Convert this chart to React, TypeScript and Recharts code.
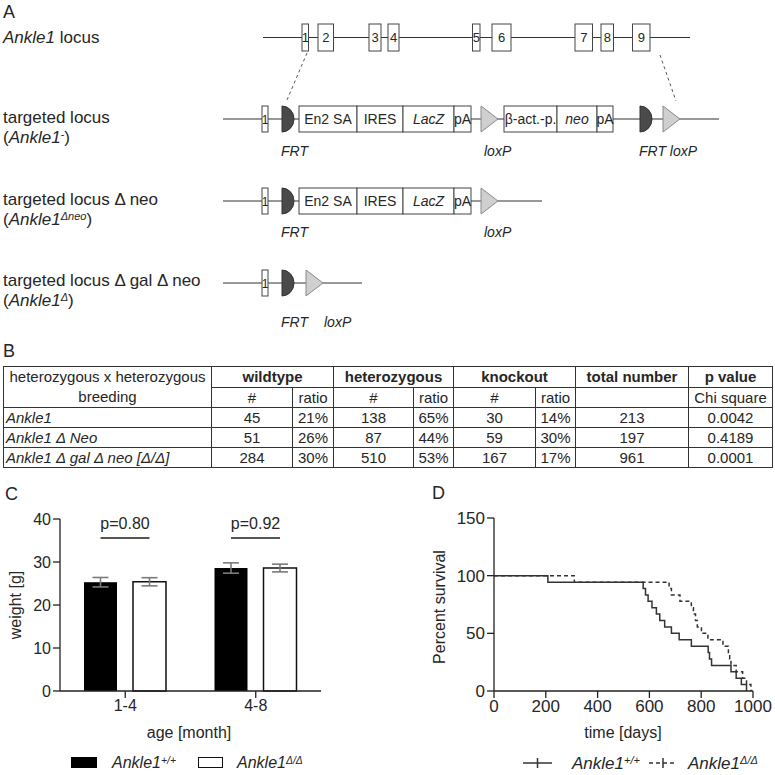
import React from "react";
import { BarChart, Bar, XAxis, YAxis, ErrorBar, LineChart, Line } from "recharts";

const FONT = '"Liberation Sans", Arial, Helvetica, sans-serif';
const INK = "#262626";

// ---- panel B: breeding table ----
const breedingLines = ["Ankle1", "Ankle1 Δ Neo", "Ankle1 Δ gal Δ neo [Δ/Δ]"];
const wildtypeCounts = [45, 51, 284];
const wildtypeRatios = ["21%", "26%", "30%"];
const hetCounts = [138, 87, 510];
const hetRatios = ["65%", "44%", "53%"];
const koCounts = [30, 59, 167];
const koRatios = ["14%", "30%", "17%"];
const totals = [213, 197, 961];
const chiSquareP = ["0.0042", "0.4189", "0.0001"];

// ---- panel C: body weight ----
const ageGroups = ["1-4", "4-8"];
const wtWeight = [25.3, 28.6];
const wtSem = [1.1, 1.2];
const koWeight = [25.4, 28.6];
const koSem = [0.95, 0.9];
const weightP = ["p=0.80", "p=0.92"];
const weightTicks = [0, 10, 20, 30, 40];

// ---- panel D: survival ----
const wtDays = [0, 208, 576, 585, 595, 610, 627, 640, 659, 685, 715, 762, 827, 832, 840, 915, 935, 955, 975];
const wtSurvival = [100, 94.4, 88.9, 83.3, 77.8, 72.2, 66.7, 61.1, 55.6, 50, 44.4, 38.9, 33.3, 27.8, 22.2, 16.7, 11.1, 5.6, 0];
const koDays = [0, 310, 676, 685, 718, 762, 770, 778, 785, 801, 826, 884, 905, 910, 915, 935, 960, 975, 992];
const koSurvival = [100, 94.4, 88.9, 83.3, 77.8, 72.2, 66.7, 61.1, 55.6, 50, 44.4, 38.9, 33.3, 27.8, 22.2, 16.7, 11.1, 5.6, 0];
const dayTicks = [0, 200, 400, 600, 800, 1000];
const survivalTicks = [0, 50, 100, 150];

// ---- panel A: locus schematic ----
const locusExons = ["1", "2", "3", "4", "5", "6", "7", "8", "9"];
const EXON_SPANS = [
  [302, 308.5], [318, 333.5], [369, 381], [388, 399], [472.5, 480],
  [492, 511], [575, 592.5], [601, 613.5], [632.5, 650],
];
const cassetteA = [
  { label: "En2 SA", x0: 299, x1: 357 },
  { label: "IRES", x0: 357, x1: 403 },
  { label: "LacZ", x0: 403, x1: 454, italic: true },
  { label: "pA", x0: 454, x1: 471 },
];
const cassetteB = [
  { label: "β-act.-p.", x0: 504, x1: 557 },
  { label: "neo", x0: 557, x1: 597, italic: true },
  { label: "pA", x0: 597, x1: 613 },
];

const Sup = ({ children }: { children: React.ReactNode }) => (
  <sup style={{ fontSize: "0.65em", lineHeight: 0, verticalAlign: "0.4em" }}>{children}</sup>
);

function TextAt({ x, y, size = 16, center = false, rotate = false, children }: any) {
  let transform = center ? "translate(-50%,-50%)" : "translateY(-50%)";
  if (rotate) transform += " rotate(-90deg)";
  return (
    <div
      style={{
        position: "absolute",
        left: x,
        top: y,
        transform,
        fontSize: size,
        lineHeight: `${size}px`,
        whiteSpace: "nowrap",
      }}
    >
      {children}
    </div>
  );
}

const Frt = ({ x, cy }: { x: number; cy: number }) => (
  <path d={`M${x},${cy - 13} A12,13 0 0 1 ${x},${cy + 13} Z`} fill="#4a4a4a" stroke="#333" strokeWidth={1} />
);
const LoxP = ({ x, cy }: { x: number; cy: number }) => (
  <polygon points={`${x},${cy - 13} ${x + 17},${cy} ${x},${cy + 13}`} fill="#cfcfcf" stroke="#8a8a8a" strokeWidth={1} />
);
const Box = ({ x0, x1, cy, label, italic, size = 14 }: any) => (
  <g>
    <rect x={x0} y={cy - 13} width={x1 - x0} height={26} fill="#fff" stroke="#444" strokeWidth={1} />
    <text x={(x0 + x1) / 2} y={cy + 5} textAnchor="middle" fontSize={size} fontStyle={italic ? "italic" : "normal"} fill={INK}>
      {label}
    </text>
  </g>
);

function TargetedRow({ cy, end, full, short }: { cy: number; end: number; full?: boolean; short?: boolean }) {
  return (
    <g>
      <line x1={223} x2={end} y1={cy} y2={cy} stroke="#333" strokeWidth={1.2} />
      <Box x0={262} x1={268} cy={cy} label="1" size={12} />
      <Frt x={282} cy={cy} />
      {short ? (
        <LoxP x={306} cy={cy} />
      ) : (
        <>
          {cassetteA.map((b) => (
            <Box key={b.label + b.x0} {...b} cy={cy} />
          ))}
          <LoxP x={481} cy={cy} />
        </>
      )}
      {full && (
        <>
          {cassetteB.map((b) => (
            <Box key={b.label + b.x0} {...b} cy={cy} />
          ))}
          <Frt x={640} cy={cy} />
          <LoxP x={663} cy={cy} />
        </>
      )}
    </g>
  );
}

function PanelA() {
  const it = (s: string) => <i>{s}</i>;
  const L = 17;
  return (
    <>
      <TextAt x={3} y={12} size={18}>A</TextAt>
      <svg width={775} height={340} style={{ position: "absolute", left: 0, top: 0 }} fontFamily={FONT}>
        <line x1={263} x2={690} y1={37.5} y2={37.5} stroke="#333" strokeWidth={1.2} />
        {locusExons.map((label, i) => (
          <g key={label}>
            <rect x={EXON_SPANS[i][0]} y={24} width={EXON_SPANS[i][1] - EXON_SPANS[i][0]} height={27} fill="#fff" stroke="#444" />
            <text x={(EXON_SPANS[i][0] + EXON_SPANS[i][1]) / 2} y={42} textAnchor="middle" fontSize={13} fill={INK}>
              {label}
            </text>
          </g>
        ))}
        <line x1={307} y1={53} x2={287} y2={100} stroke="#555" strokeDasharray="3 3" />
        <line x1={660} y1={55} x2={676} y2={101} stroke="#555" strokeDasharray="3 3" />
        <TargetedRow cy={119} end={719} full />
        <TargetedRow cy={201} end={542} />
        <TargetedRow cy={283} end={362} short />
      </svg>
      <TextAt x={3} y={37} size={L}>{it("Ankle1")} locus</TextAt>
      <TextAt x={3} y={117} size={L}>targeted locus</TextAt>
      <TextAt x={3} y={137} size={L}>({it("Ankle1")}<Sup>-</Sup>)</TextAt>
      <TextAt x={3} y={199} size={L}>targeted locus Δ neo</TextAt>
      <TextAt x={3} y={219} size={L}>({it("Ankle1")}<Sup><i>Δneo</i></Sup>)</TextAt>
      <TextAt x={3} y={280} size={L}>targeted locus Δ gal Δ neo</TextAt>
      <TextAt x={3} y={300} size={L}>({it("Ankle1")}<Sup><i>Δ</i></Sup>)</TextAt>
      <TextAt x={281} y={151} size={14}>{it("FRT")}</TextAt>
      <TextAt x={484} y={151} size={14}>{it("loxP")}</TextAt>
      <TextAt x={639} y={151} size={14}>{it("FRT loxP")}</TextAt>
      <TextAt x={281} y={232} size={14}>{it("FRT")}</TextAt>
      <TextAt x={484} y={232} size={14}>{it("loxP")}</TextAt>
      <TextAt x={281} y={322} size={14}>{it("FRT")}</TextAt>
      <TextAt x={324} y={322} size={14}>{it("loxP")}</TextAt>
    </>
  );
}

function PanelB() {
  const colW = [208, 81, 41, 80, 40, 82, 40, 113, 84];
  const td: React.CSSProperties = {
    border: "1px solid #333",
    padding: 0,
    height: 19,
    lineHeight: "19px",
    textAlign: "center",
    overflow: "hidden",
    whiteSpace: "nowrap",
  };
  const th: React.CSSProperties = { ...td, fontWeight: "bold" };
  return (
    <>
      <TextAt x={3} y={351} size={18}>B</TextAt>
      <table
        style={{
          position: "absolute",
          left: 3,
          top: 366,
          width: 769,
          borderCollapse: "collapse",
          tableLayout: "fixed",
          fontSize: 15,
          color: INK,
        }}
      >
        <colgroup>
          {colW.map((w, i) => (
            <col key={i} style={{ width: w }} />
          ))}
        </colgroup>
        <tbody>
          <tr>
            <td rowSpan={2} style={{ ...td, lineHeight: "20px" }}>
              heterozygous x heterozygous
              <br />
              breeding
            </td>
            <td colSpan={2} style={th}>wildtype</td>
            <td colSpan={2} style={th}>heterozygous</td>
            <td colSpan={2} style={th}>knockout</td>
            <td style={th}>total number</td>
            <td style={th}>p value</td>
          </tr>
          <tr>
            <td style={td}>#</td>
            <td style={td}>ratio</td>
            <td style={td}>#</td>
            <td style={td}>ratio</td>
            <td style={td}>#</td>
            <td style={td}>ratio</td>
            <td style={td}></td>
            <td style={td}>Chi square</td>
          </tr>
          {breedingLines.map((name, i) => (
            <tr key={name}>
              <td style={{ ...td, textAlign: "left", fontStyle: "italic", paddingLeft: 2 }}>{name}</td>
              <td style={td}>{wildtypeCounts[i]}</td>
              <td style={td}>{wildtypeRatios[i]}</td>
              <td style={td}>{hetCounts[i]}</td>
              <td style={td}>{hetRatios[i]}</td>
              <td style={td}>{koCounts[i]}</td>
              <td style={td}>{koRatios[i]}</td>
              <td style={td}>{totals[i]}</td>
              <td style={td}>{chiSquareP[i]}</td>
            </tr>
          ))}
        </tbody>
      </table>
    </>
  );
}

const P_LEVEL = 35.6;
const BAR_GAP = 16;

function WtBarShape(props: any) {
  const { x, y, width, height, payload } = props;
  const zeroY = y + height;
  const perUnit = height / payload.wt;
  const ly = zeroY - P_LEVEL * perUnit;
  const x1 = x + width / 2;
  const x2 = x1 + width + BAR_GAP;
  return (
    <g>
      <rect x={x} y={y} width={width} height={height} fill="#000" />
      <line x1={x1} x2={x2} y1={ly} y2={ly} stroke="#555" strokeWidth={2} />
      <text x={(x1 + x2) / 2} y={ly - 9} textAnchor="middle" fontSize={16} fill={INK}>
        {payload.p}
      </text>
    </g>
  );
}

function PanelC() {
  const data = ageGroups.map((age, i) => ({
    age,
    wt: wtWeight[i],
    wtErr: wtSem[i],
    ko: koWeight[i],
    koErr: koSem[i],
    p: weightP[i],
  }));
  const tick = { fill: INK, fontSize: 16 };
  return (
    <>
      <TextAt x={5} y={494} size={18}>C</TextAt>
      <div style={{ position: "absolute", left: 0, top: 480 }}>
        <BarChart width={340} height={241} data={data} margin={{ top: 39, right: 19, left: 10, bottom: 0 }} barGap={BAR_GAP} barSize={33}>
          <XAxis dataKey="age" height={30} stroke="#222" strokeWidth={1.3} tickSize={7} tick={tick} />
          <YAxis domain={[0, 40]} ticks={weightTicks} width={50} stroke="#222" strokeWidth={1.3} tickSize={7} tick={tick} />
          <Bar dataKey="wt" fill="#000" shape={WtBarShape} isAnimationActive={false}>
            <ErrorBar dataKey="wtErr" width={8} stroke="#7a7a7a" strokeWidth={1.6} />
          </Bar>
          <Bar dataKey="ko" fill="#fff" stroke="#111" strokeWidth={1.5} isAnimationActive={false}>
            <ErrorBar dataKey="koErr" width={8} stroke="#7a7a7a" strokeWidth={1.6} />
          </Bar>
        </BarChart>
      </div>
      <TextAt x={16} y={605} center rotate>weight [g]</TextAt>
      <TextAt x={189} y={733} center>age [month]</TextAt>
      <div style={{ position: "absolute", left: 71, top: 757, width: 26, height: 11, background: "#000" }} />
      <TextAt x={112} y={763}><i>Ankle1</i><Sup><i>+/+</i></Sup></TextAt>
      <div style={{ position: "absolute", left: 198, top: 757, width: 23, height: 9, border: "1.5px solid #111", background: "#fff" }} />
      <TextAt x={237} y={763}><i>Ankle1</i><Sup><i>Δ/Δ</i></Sup></TextAt>
    </>
  );
}

function PanelD() {
  const wtData = wtDays.map((day, i) => ({ day, pct: wtSurvival[i] }));
  const koData = koDays.map((day, i) => ({ day, pct: koSurvival[i] }));
  const tick = { fill: INK, fontSize: 17 };
  return (
    <>
      <TextAt x={432} y={493} size={18}>D</TextAt>
      <div style={{ position: "absolute", left: 400, top: 480 }}>
        <LineChart width={375} height={241} margin={{ top: 38, right: 22, left: 14, bottom: 0 }}>
          <XAxis type="number" dataKey="day" domain={[0, 1000]} ticks={dayTicks} height={30} stroke="#222" strokeWidth={1.3} tickSize={7} tick={tick} />
          <YAxis type="number" domain={[0, 150]} ticks={survivalTicks} width={80} stroke="#222" strokeWidth={1.3} tickSize={7} tick={tick} />
          <Line data={wtData} dataKey="pct" type="stepAfter" stroke="#333" strokeWidth={1.5} dot={false} isAnimationActive={false} />
          <Line data={koData} dataKey="pct" type="stepAfter" stroke="#333" strokeWidth={1.5} strokeDasharray="4 3" dot={false} isAnimationActive={false} />
        </LineChart>
      </div>
      <TextAt x={440} y={607} center rotate>Percent survival</TextAt>
      <TextAt x={623} y={733} center>time [days]</TextAt>
      <svg width={180} height={20} style={{ position: "absolute", left: 515, top: 753 }}>
        <line x1={8} x2={37} y1={10} y2={10} stroke="#333" strokeWidth={1.5} />
        <line x1={22.5} x2={22.5} y1={5} y2={15} stroke="#333" strokeWidth={1.5} />
        <line x1={134} x2={162} y1={10} y2={10} stroke="#333" strokeWidth={1.5} strokeDasharray="4 3" />
        <line x1={148} x2={148} y1={5} y2={15} stroke="#333" strokeWidth={1.5} />
      </svg>
      <TextAt x={572} y={763} size={17}><i>Ankle1</i><Sup><i>+/+</i></Sup></TextAt>
      <TextAt x={688} y={763} size={17}><i>Ankle1</i><Sup><i>Δ/Δ</i></Sup></TextAt>
    </>
  );
}

export default function App() {
  return (
    <div
      style={{
        position: "absolute",
        left: 0,
        top: 0,
        width: 775,
        height: 775,
        background: "#fff",
        fontFamily: FONT,
        color: INK,
        overflow: "hidden",
      }}
    >
      <PanelA />
      <PanelB />
      <PanelC />
      <PanelD />
    </div>
  );
}
